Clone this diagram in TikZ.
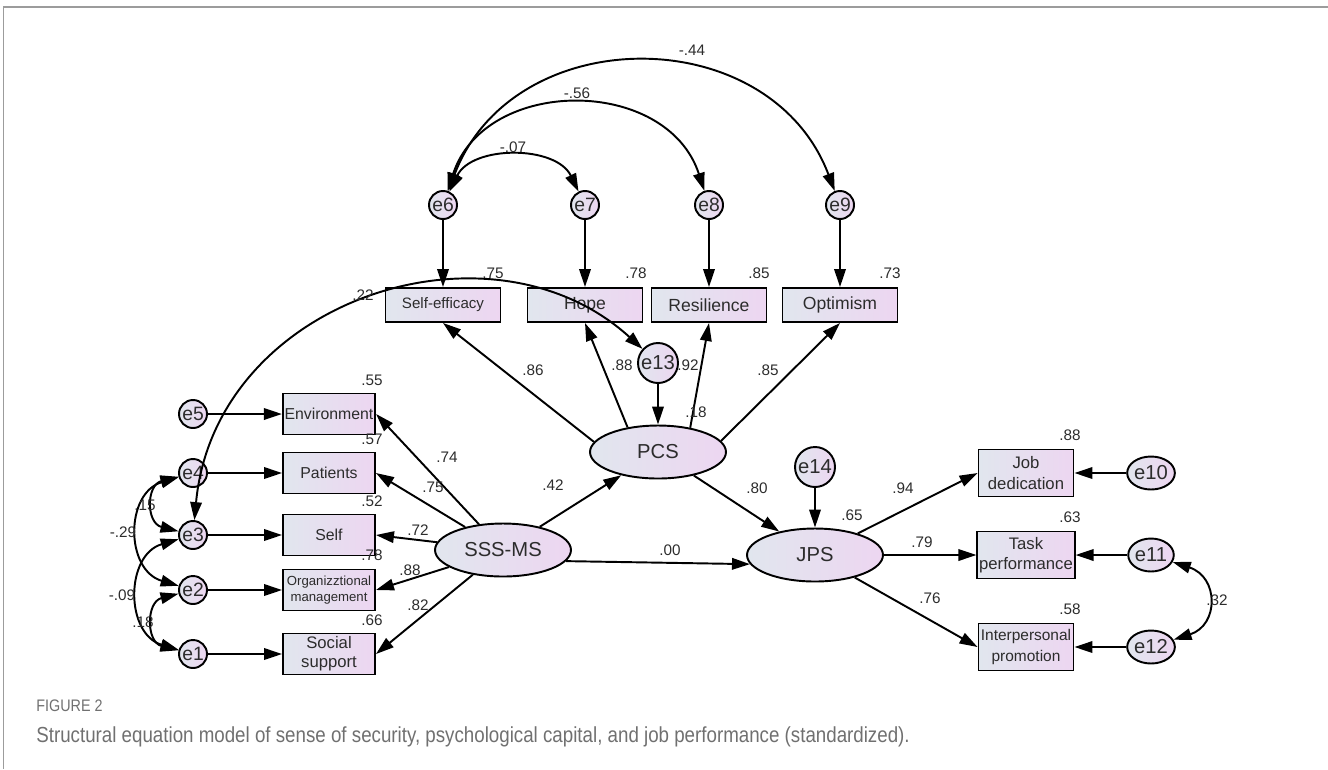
\documentclass[tikz,border=0pt]{standalone}
\usepackage{fontspec}
\setmainfont{Liberation Sans}
\setsansfont{Liberation Sans}
\newfontfamily\capfont[FakeStretch=0.86]{Liberation Sans}
\usetikzlibrary{arrows.meta,shapes.geometric}
\definecolor{ink}{HTML}{2C2C2C}
\definecolor{boxl}{HTML}{E1E6EE}
\definecolor{boxr}{HTML}{EDD6F1}
\definecolor{capgrey}{HTML}{707070}
\definecolor{rule}{HTML}{9C9C9C}

\tikzset{
  obs/.style={draw=black,line width=1.1pt,left color=boxl,right color=boxr,
    inner sep=1pt,align=center},
  topbox/.style={obs,minimum width=2.3cm,minimum height=0.68cm,
    font=\sffamily\fontsize{10}{11}\selectfont},
  leftbox/.style={obs,minimum width=1.84cm,minimum height=0.82cm,
    font=\sffamily\fontsize{9}{10.5}\selectfont},
  rightbox/.style={obs,minimum width=1.9cm,minimum height=0.94cm,
    font=\sffamily\fontsize{9.5}{11.5}\selectfont},
  lat/.style={ellipse,draw=black,line width=1.1pt,left color=boxl,right color=boxr,
    inner sep=0pt,minimum width=2.72cm,minimum height=1.06cm,
    font=\sffamily\fontsize{11.5}{13}\selectfont},
  err/.style={circle,draw=black,line width=1.1pt,left color=boxl,right color=boxr,
    inner sep=0pt,minimum size=0.56cm,font=\sffamily\fontsize{11}{12}\selectfont},
  errbig/.style={err,minimum size=0.8cm,font=\sffamily\fontsize{11.5}{12}\selectfont},
  errwide/.style={ellipse,draw=black,line width=1.1pt,left color=boxl,right color=boxr,
    inner sep=0pt,minimum width=0.76cm,minimum height=0.66cm,
    font=\sffamily\fontsize{11.5}{12}\selectfont},
  coef/.style={inner sep=0pt,font=\sffamily\fontsize{8.7}{9}\selectfont},
  lnk/.style={->,line width=1.1pt},
  cov/.style={<->,line width=1.1pt}
}

\begin{document}
\begin{tikzpicture}[x=0.02cm,y=-0.02cm,font=\sffamily,text=ink,
  >={Triangle[length=3.6mm,width=2.3mm]}]
  \useasboundingbox (0,0) rectangle (1328,769);
  \draw[rule,line width=1.4pt] (3,7) -- (1328,7);
  \draw[rule,line width=.5pt] (3,7) -- (3,769);

  % latent variables
  \node[lat] (sss) at (503,550) {SSS-MS};
  \node[lat] (pcs) at (658,452) {PCS};
  \node[lat] (jps) at (815,555) {JPS};

  % sense of security
  \node[leftbox] (env) at (329,414) {Environment};
  \node[leftbox] (pat) at (329,473) {Patients};
  \node[leftbox] (slf) at (329,535) {Self};
  \node[leftbox,font=\sffamily\fontsize{7.5}{9.5}\selectfont] (org) at (329,590)
    {Organizztional\\management};
  \node[leftbox,font=\sffamily\fontsize{9.5}{11}\selectfont] (soc) at (329,654)
    {Social\\support};
  \node[err] (e5) at (193,414) {e5};
  \node[err] (e4) at (193,473) {e4};
  \node[err] (e3) at (193,535) {e3};
  \node[err] (e2) at (193,590) {e2};
  \node[err] (e1) at (193,654) {e1};

  % psychological capital
  \node[topbox,font=\sffamily\fontsize{8.6}{10}\selectfont] (seff) at (443,305)
    {Self-efficacy};
  \node[topbox] (hope) at (585,305) {Hope};
  \node[topbox] (resil) at (709,305) {Resilience};
  \node[topbox] (optim) at (840,305) {Optimism};
  \node[err] (e6) at (443,205) {e6};
  \node[err] (e7) at (585,205) {e7};
  \node[err] (e8) at (709,205) {e8};
  \node[err] (e9) at (840,205) {e9};
  \node[errbig] (e13) at (658,363) {e13};

  % job performance
  \node[rightbox] (jobd) at (1026,473) {Job\\dedication};
  \node[rightbox] (task) at (1026,555) {Task\\performance};
  \node[rightbox,font=\sffamily\fontsize{8.8}{11.5}\selectfont] (inter) at (1026,647)
    {Interpersonal\\promotion};
  \node[errwide] (e10) at (1151,473) {e10};
  \node[errwide] (e11) at (1151,555) {e11};
  \node[errwide] (e12) at (1151,647) {e12};
  \node[errbig] (e14) at (815,467) {e14};

  % paths
  \foreach \a/\b in {e5/env,e4/pat,e3/slf,e2/org,e1/soc,e6/seff,e7/hope,
      e8/resil,e9/optim,e13/pcs,e14/jps,e10/jobd,e11/task,e12/inter,
      sss/pcs,pcs/jps,jps/task}
    \draw[lnk] (\a) -- (\b);
  \foreach \b in {env,pat,slf,org,soc}
    \draw[lnk] (sss) -- (\b.east);
  \draw[lnk] (sss.-10) -- (jps.188);
  \draw[lnk] (pcs.171) -- (seff.south);
  \draw[lnk] (pcs.141) -- (hope.south);
  \draw[lnk] (pcs.37) -- (resil.south);
  \draw[lnk] (pcs.10) -- (optim.south);
  \draw[lnk] (jps) -- (jobd.west);
  \draw[lnk] (jps) -- (inter.west);

  % covariances
  \draw[cov] (e6) .. controls +(29,-60) and +(-29,-60) .. (e7);
  \draw[cov] (e6) .. controls +(42,-129) and +(-42,-129) .. (e8);
  \draw[cov] (e6) .. controls +(70,-185) and +(-70,-185) .. (e9);
  \draw[cov] (e3) .. controls (215,300) and (490,210) .. (e13);
  \draw[cov] (e4) .. controls +(-47,12) and +(-47,-12) .. (e3);
  \draw[cov] (e4) .. controls +(-68,20) and +(-68,-20) .. (e2);
  \draw[cov] (e3) .. controls +(-68,20) and +(-68,-20) .. (e1);
  \draw[cov] (e2) .. controls +(-47,12) and +(-47,-12) .. (e1);
  \draw[cov] (e11) .. controls +(68,22) and +(68,-22) .. (e12);

  % estimates
  \foreach \x/\y/\lab [count=\i] in {692/50/-.44,577/93/-.56,513/147/-.07,
      363/295/.22,493/273/.75,636/273/.78,759/273/.85,890/273/.73,
      533/370/.86,622/365/.88,688/365/.92,696/412/.18,768/370/.85,
      757/488/.80,852/515/.65,903/488/.94,922/542/.79,670/550/.00,
      930/598/.76,1070/435/.88,1070/517/.63,1070/609/.58,1217/600/.32,
      372/380/.55,372/439/.57,372/501/.52,372/555/.78,372/620/.66,
      447/457/.74,433/487/.75,418/530/.72,410/570/.88,418/605/.82,
      553/485/.42,145/505/.15,123/532/-.29,122/595/-.09,143/622/.18}
    \node[coef] (c\i) at (\x,\y) {\lab};

  % caption
  \node[anchor=west,inner sep=0pt,text=capgrey,font=\capfont\fontsize{9.5}{11}\selectfont]
    (fig) at (36,706) {FIGURE 2};
  \node[anchor=west,inner sep=0pt,text=capgrey,font=\capfont\fontsize{12.4}{14}\selectfont]
    (cap) at (36,737) {Structural equation model of sense of security, psychological
    capital, and job performance (standardized).};
\end{tikzpicture}
\end{document}
